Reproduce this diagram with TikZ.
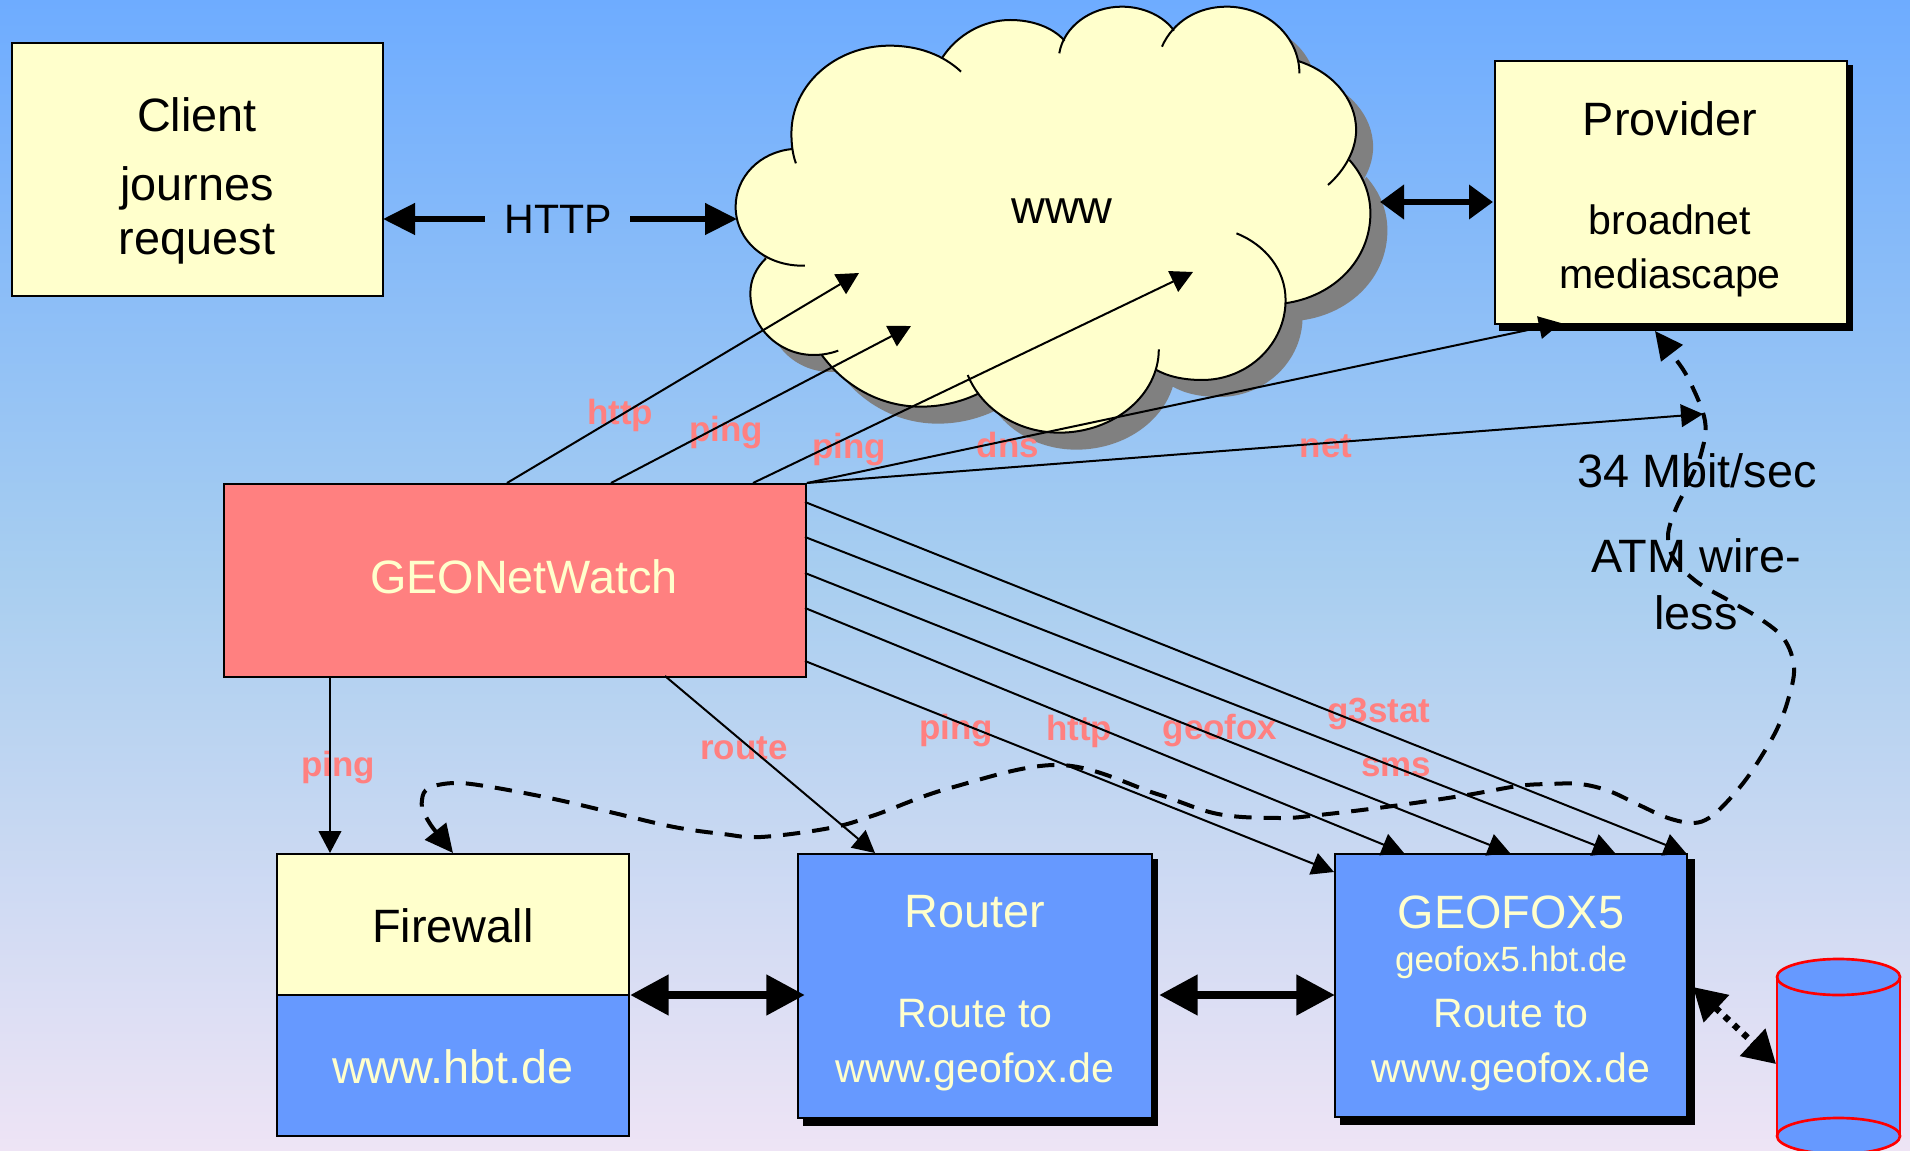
\documentclass[tikz,border=0pt]{standalone}
\usepackage{fontspec}
\setmainfont{Liberation Sans}
\usetikzlibrary{arrows.meta}
\definecolor{lemon}{HTML}{FFFFCC}
\definecolor{boxblue}{HTML}{6699FF}
\definecolor{salmon}{HTML}{FF8080}
\definecolor{bgtop}{HTML}{6EACFF}
\definecolor{bgmid}{HTML}{A8CEF0}
\definecolor{bgbot}{HTML}{EEE4F5}
\tikzset{
  box/.style={draw=black,line width=1.5pt,anchor=north west,inner sep=0pt},
  bw/.style={minimum width=#1*0.75pt},
  bh/.style={minimum height=#1*0.75pt},
  big/.style={inner sep=0pt,font=\fontsize{35.1}{40}\selectfont},
  mid/.style={inner sep=0pt,font=\fontsize{30.8}{36}\selectfont},
  small/.style={inner sep=0pt,font=\fontsize{26.3}{30}\selectfont},
  lab/.style={inner sep=0pt,text=salmon,font=\fontsize{26.2}{30}\selectfont\bfseries},
  thin link/.style={line width=1.5pt,-{Triangle[length=16.5pt,width=17pt]}},
  fat one/.style={line width=4.2pt,-{Triangle[length=24pt,width=23pt]}},
  fat two/.style={line width=4.5pt,{Triangle[length=18pt,width=25pt]}-{Triangle[length=18pt,width=25pt]}},
  fat three/.style={line width=6.5pt,{Triangle[length=29pt,width=29pt]}-{Triangle[length=29pt,width=29pt]}},
  route/.style={line width=3pt,dash pattern=on 13pt off 9pt,{Triangle[length=21pt,width=20pt]}-{Triangle[length=21pt,width=20pt]}},
  lobe/.style={line width=1.5pt},
  drum/.style={draw=red,line width=2pt},
}
\newcommand{\LA}{(170,490) .. controls (162,460) and (160,430) .. (160,400) .. controls (160,255) and (258,137) .. (380,137) .. controls (445,137) and (500,165) .. (540,215)}
\newcommand{\LB}{(497,175) .. controls (530,105) and (590,60) .. (650,60) .. controls (700,60) and (745,82) .. (772,122)}
\newcommand{\LC}{(760,160) .. controls (770,80) and (830,20) .. (900,20) .. controls (950,20) and (995,50) .. (1017,92)}
\newcommand{\LD}{(990,140) .. controls (1015,65) and (1070,20) .. (1135,20) .. controls (1225,20) and (1298,110) .. (1298,220)}
\newcommand{\LE}{(1295,183) .. controls (1370,215) and (1425,295) .. (1425,390) .. controls (1425,450) and (1400,510) .. (1362,555)}
\newcommand{\LF}{(1410,480) .. controls (1440,525) and (1457,580) .. (1457,640) .. controls (1457,780) and (1375,890) .. (1265,910)}
\newcommand{\LG}{(1157,700) .. controls (1222,735) and (1267,810) .. (1267,900) .. controls (1267,1032) and (1183,1140) .. (1080,1140) .. controls (1040,1140) and (1003,1130) .. (975,1108)}
\newcommand{\LH}{(983,1048) .. controls (983,1185) and (883,1298) .. (760,1298) .. controls (665,1298) and (585,1225) .. (555,1125)}
\newcommand{\LI}{(580,1180) .. controls (542,1205) and (497,1220) .. (450,1220) .. controls (360,1220) and (280,1160) .. (228,1065)}
\newcommand{\LJ}{(265,1052) .. controls (248,1060) and (230,1065) .. (210,1065) .. controls (132,1065) and (68,982) .. (68,880) .. controls (68,840) and (80,805) .. (103,775)}
\newcommand{\LK}{(190,797) .. controls (100,800) and (35,720) .. (35,620) .. controls (35,530) and (90,455) .. (163,447)}
\newcommand{\cloudpath}{\LA -- \LB -- \LC -- \LD -- \LE -- \LF -- \LG -- \LH -- \LI -- \LJ -- \LK -- cycle}
\newcommand{\cloudcore}{(170,490) -- (540,215) -- (760,160) -- (990,140) -- (1298,220) -- (1362,555) -- (1157,700) -- (975,1108) -- (555,1125) -- (265,1052) -- (190,797) -- cycle}
\begin{document}
\begin{tikzpicture}[x=0.75pt,y=-0.75pt]
\useasboundingbox (0,0) rectangle (1910,1151);
\shade[top color=bgtop,bottom color=bgbot,middle color=bgmid] (0,0) rectangle (1910,1151);

% cloud
\begin{scope}[shift={(720+17,17)},x=0.75pt/2.24,y=-0.75pt/3]
  \fill[black!50] \cloudpath;
  \fill[black!50] \cloudcore;
\end{scope}
\begin{scope}[shift={(720,0)},x=0.75pt/2.24,y=-0.75pt/3]
  \fill[lemon] \cloudpath;
  \fill[lemon] \cloudcore;
  \draw[lobe] \LA; \draw[lobe] \LB; \draw[lobe] \LC; \draw[lobe] \LD;
  \draw[lobe] \LE; \draw[lobe] \LF; \draw[lobe] \LG; \draw[lobe] \LH;
  \draw[lobe] \LI; \draw[lobe] \LJ; \draw[lobe] \LK;
\end{scope}
\node[big] (wwwtext) at (1062,211) {www};

% shadows
\fill[black] (1499,65) rectangle (1853,331);
\fill[black] (803,859) rectangle (1158,1126);
\fill[black] (1340,859) rectangle (1695,1125);

% boxes
\node[box,fill=lemon,bw=371,bh=253] (client) at (11,42) {};
\node[box,fill=lemon,bw=352,bh=263] (provider) at (1494,60) {};
\node[box,fill=salmon,bw=582,bh=193] (geo) at (223,483) {};
\node[box,fill=lemon,bw=352,bh=141] (fw) at (276,853) {};
\node[box,fill=boxblue,bw=352,bh=141] (hbt) at (276,994) {};
\node[box,fill=boxblue,bw=354,bh=264] (router) at (797,853) {};
\node[box,fill=boxblue,bw=352,bh=263] (fox) at (1334,853) {};

% database
\fill[boxblue] (1777,977) rectangle (1900,1136);
\fill[boxblue] (1838.5,1136) ellipse [x radius=61.5,y radius=18];
\draw[drum] (1777,977) -- (1777,1136) (1900,977) -- (1900,1136);
\draw[drum] (1838.5,1136) ellipse [x radius=61.5,y radius=18];
\draw[drum,fill=boxblue] (1838.5,977) ellipse [x radius=61.5,y radius=18];

% texts in boxes
\node[big] (t1) at (197,115) {Client};
\node[big] (t2) at (197,188) {journes};
\node[big] (t3) at (197,244) {request};
\node[big] (t4) at (1670,119) {Provider};
\node[mid] (t5) at (1670,220) {broadnet};
\node[mid] (t6) at (1670,278) {mediascape};
\node[big,text=lemon] (t7) at (524,577) {GEONetWatch};
\node[big] (t8) at (453,926) {Firewall};
\node[big,text=lemon] (t9) at (453,1067) {www.hbt.de};
\node[big,text=lemon] (t10) at (975,912) {Router};
\node[mid,text=lemon] (t11) at (975,1014) {Route to};
\node[mid,text=lemon] (t12) at (975,1072) {www.geofox.de};
\node[big,text=lemon] (t13) at (1511,912) {GEOFOX5};
\node[small,text=lemon] (t14) at (1511,962) {geofox5.hbt.de};
\node[mid,text=lemon] (t15) at (1511,1014) {Route to};
\node[mid,text=lemon] (t16) at (1511,1072) {www.geofox.de};
\node[mid] (http) at (558.5,219) {HTTP};
\node[big] (t17) at (1697,471) {34 Mbit/sec};
\node[big] (t18) at (1696,556) {ATM wire-};
\node[big] (t19) at (1696,613) {less};

% pink labels
\node[lab] (l1) at (620,415) {http};
\node[lab] (l2) at (726,433) {ping};
\node[lab] (l3) at (849,450) {ping};
\node[lab] (l4) at (1008,445) {dns};
\node[lab] (l5) at (1326,446) {net};
\node[lab] (l6) at (338,768) {ping};
\node[lab] (l7) at (744,748) {route};
\node[lab] (l8) at (956,731) {ping};
\node[lab] (l9) at (1079,731) {http};
\node[lab] (l10) at (1220,731) {geofox};
\node[lab] (l11) at (1379,714) {g3stat};
\node[lab] (l12) at (1396,767) {sms};

% named ends
\coordinate (a1) at (507,483);
\coordinate (a2) at (611,483);
\coordinate (a3) at (753,483);
\coordinate (b1) at (859,273);
\coordinate (b2) at (911,326);
\coordinate (b3) at (1193,272);
\coordinate (p1) at (1561,323);
\coordinate (p2) at (1703,414);
\coordinate (r1) at (805,502);
\coordinate (r2) at (805,537);
\coordinate (r3) at (805,573);
\coordinate (r4) at (805,608);
\coordinate (r5) at (805,661);
\coordinate (f1) at (1686,853);
\coordinate (f2) at (1615,853);
\coordinate (f3) at (1510,853);
\coordinate (f4) at (1404,853);
\coordinate (f5) at (1334,872);
\coordinate (d1) at (330,676);
\coordinate (d2) at (330,853);
\coordinate (d3) at (665,676);
\coordinate (d4) at (875,853);
\coordinate (c1) at (737,219);
\coordinate (c2) at (383,219);
\coordinate (c3) at (1380,202);
\coordinate (c4) at (1493,202);
\coordinate (m1) at (630,995);
\coordinate (m2) at (805,995);
\coordinate (m3) at (1159,995);
\coordinate (m4) at (1335,995);
\coordinate (cy1) at (1693,987);
\coordinate (cy2) at (1776,1064);

% thin links
\draw[thin link] (a1) -- (b1);
\draw[thin link] (a2) -- (b2);
\draw[thin link] (a3) -- (b3);
\draw[thin link] (geo.north east) -- (p1);
\draw[thin link] (geo.north east) -- (p2);
\draw[thin link] (r1) -- (f1);
\draw[thin link] (r2) -- (f2);
\draw[thin link] (r3) -- (f3);
\draw[thin link] (r4) -- (f4);
\draw[thin link] (r5) -- (f5);
\draw[thin link] (d1) -- (d2);
\draw[thin link] (d3) -- (d4);

% thick links
\draw[fat one] (http.west) ++(-20,0) -- (c2);
\draw[fat one] (http.east) ++(18,0) -- (c1);
\draw[fat two] (c3) -- (c4);
\draw[fat three] (m1) -- (m2);
\draw[fat three] (m3) -- (m4);
\draw[line width=4.8pt,dash pattern=on 4.5pt off 5pt,{Triangle[length=24pt,width=27pt]}-{Triangle[length=24pt,width=27pt]}] (cy1) -- (cy2);

% dashed route
\draw[route] plot[smooth,tension=.6] coordinates {
 (453,853) (426,817) (422,800) (429,788) (455,783) (491,787) (554,799) (614,813) (674,827) (723,834) (761,837)
 (830,828) (875,815) (950,788) (1060,765) (1157,794) (1218,814) (1279,818) (1319,815) (1393,806) (1467,795)
 (1518,786) (1549,784) (1580,784) (1609,791) (1639,805) (1668,818) (1693,823) (1709,818) (1724,805) (1744,782)
 (1761,757) (1777,729) (1788,700) (1794,668) (1784,639) (1759,618) (1728,600) (1697,582) (1674,559) (1668,536)
 (1675,511) (1689,482) (1701,454) (1705,421) (1689,380) (1672,354) (1655,331)};
\end{tikzpicture}
\end{document}
